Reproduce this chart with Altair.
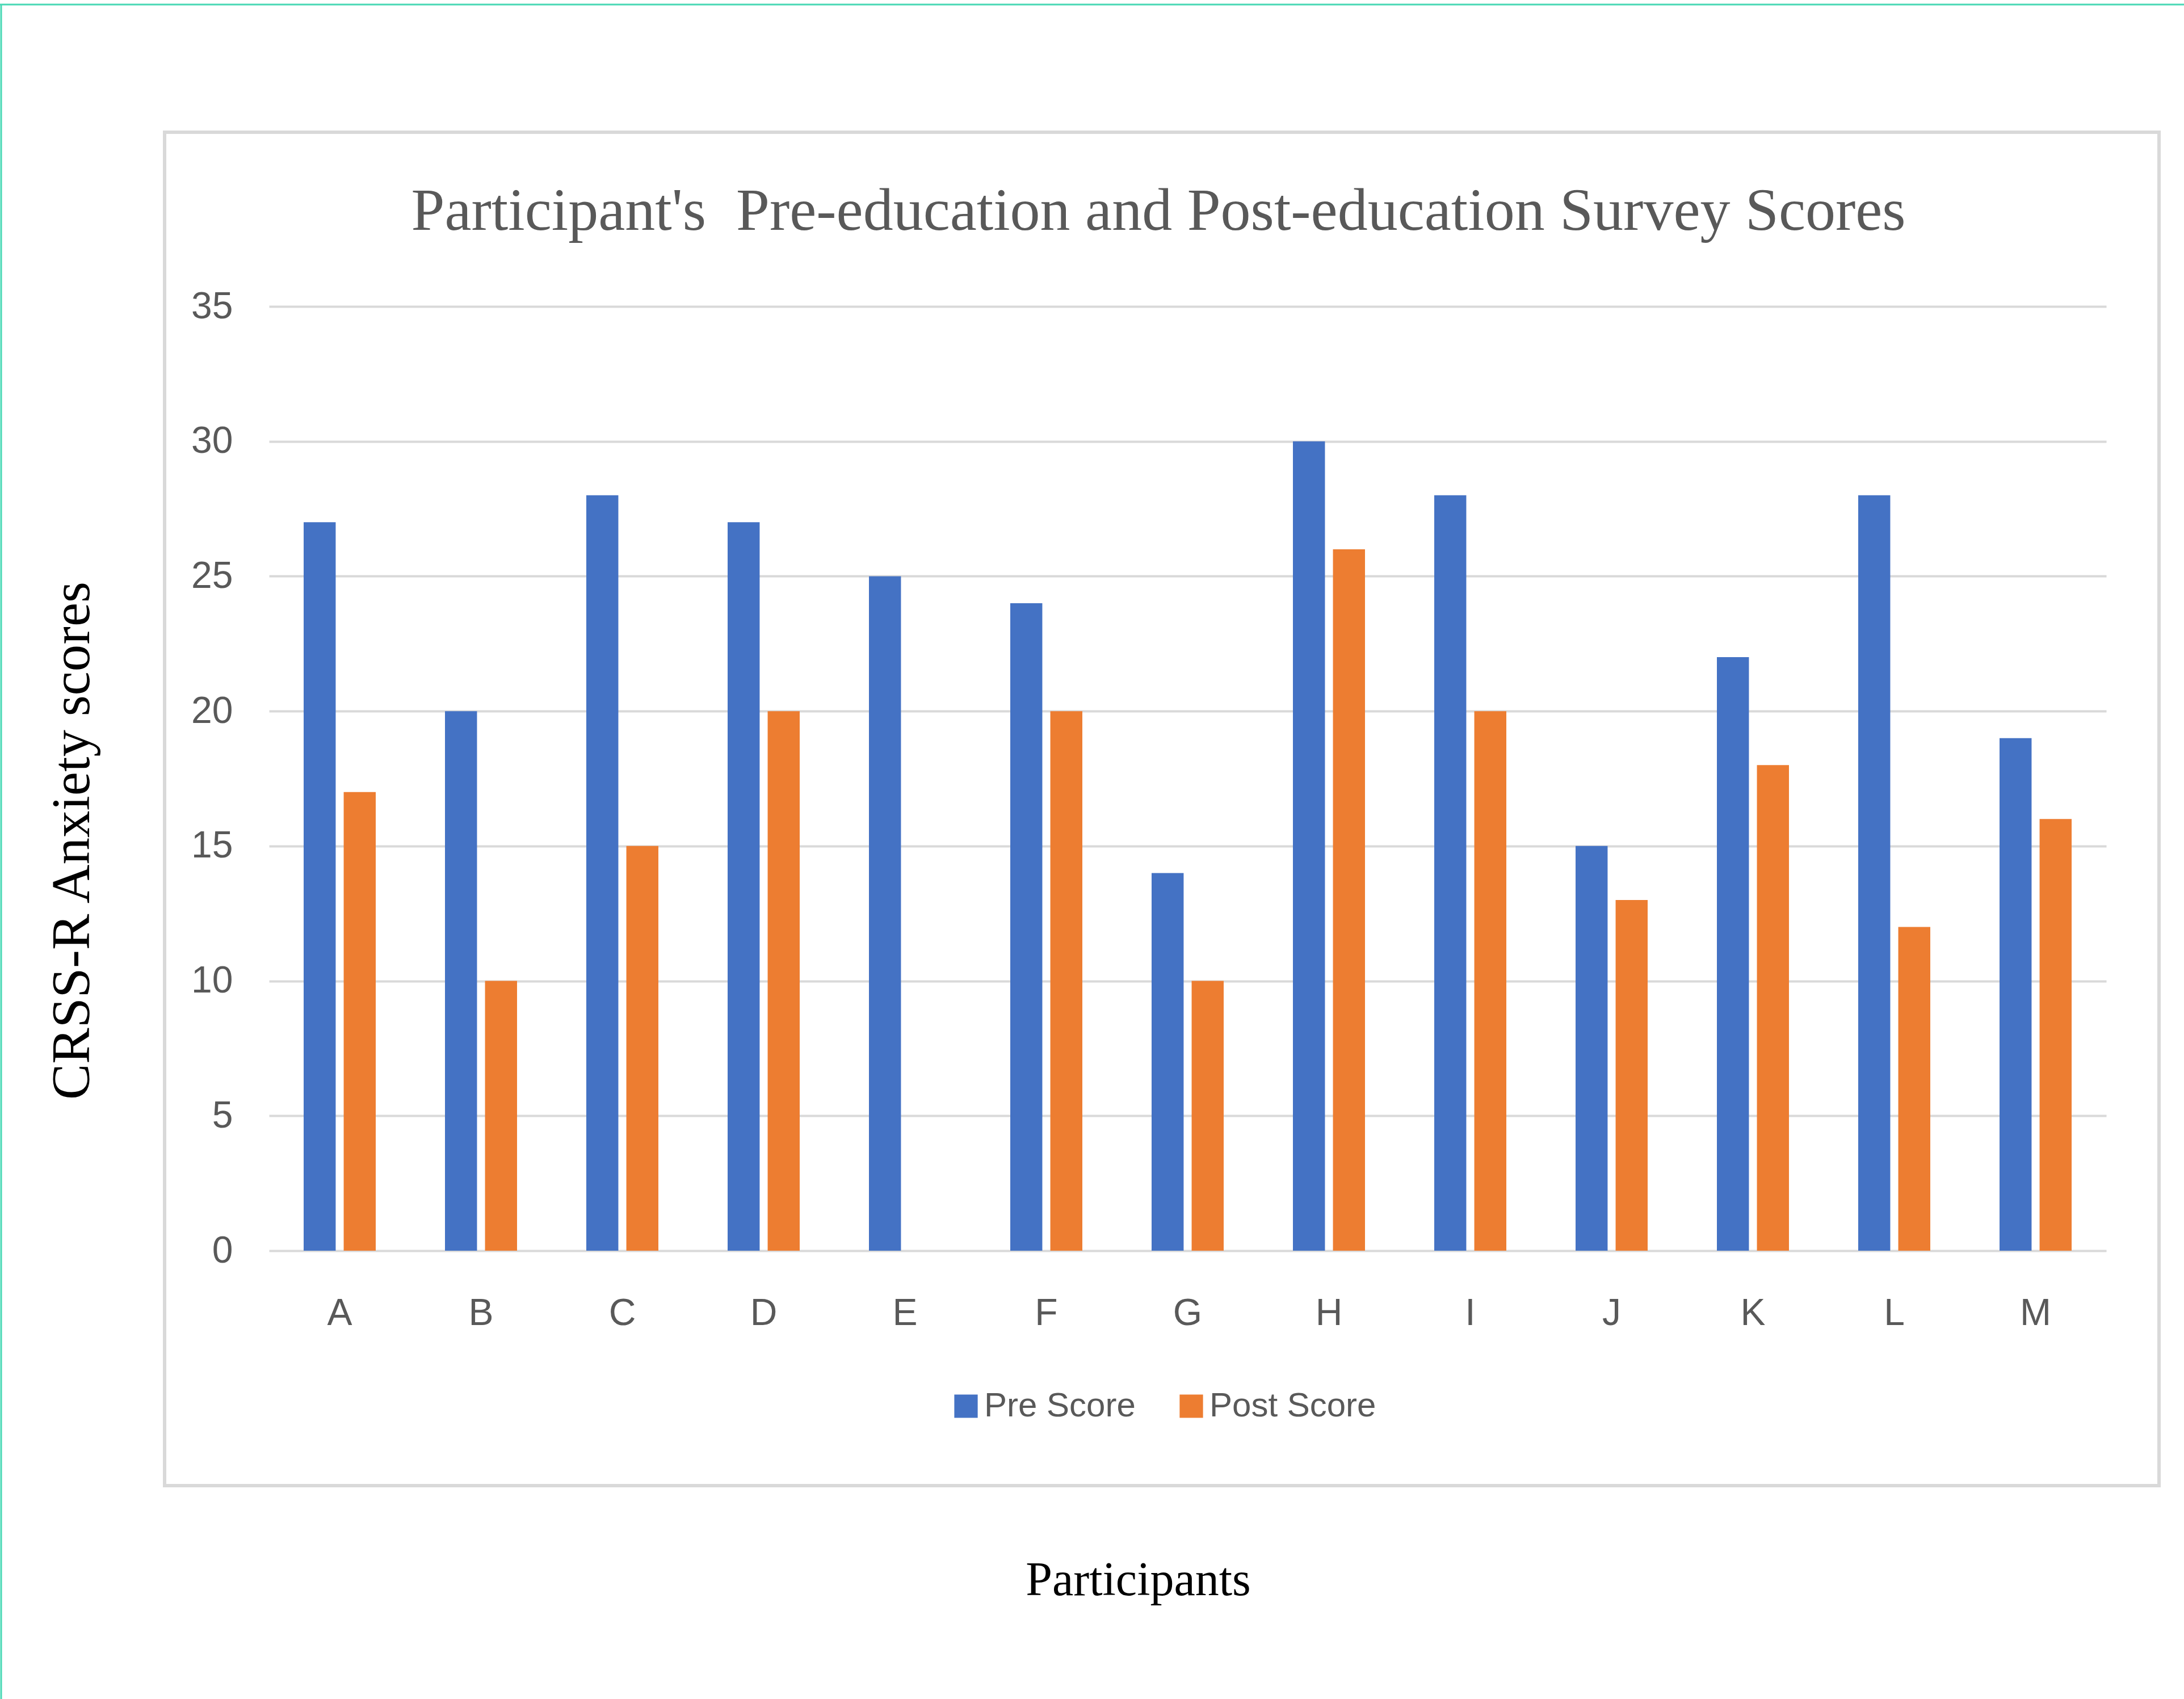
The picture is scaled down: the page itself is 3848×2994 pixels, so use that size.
import altair as alt
import pandas as pd

participants = ["A", "B", "C", "D", "E", "F", "G", "H", "I", "J", "K", "L", "M"]
pre_scores = [27, 20, 28, 27, 25, 24, 14, 30, 28, 15, 22, 28, 19]
post_scores = [17, 10, 15, 20, 0, 20, 10, 26, 20, 13, 18, 12, 16]
series_names = ["Pre Score", "Post Score"]
series_colors = ["#4472C4", "#ED7D31"]
y_ticks = [0, 5, 10, 15, 20, 25, 30, 35]
chart_title = "Participant's\u00a0 Pre-education and Post-education Survey Scores"

rows = []
for p, a, b in zip(participants, pre_scores, post_scores):
    rows.append({"Participant": p, "Series": series_names[0], "Score": a})
    rows.append({"Participant": p, "Series": series_names[1], "Score": b})
df = pd.DataFrame(rows)

W, H = 3237, 1664
LEFT, TOP = 474, 540
TOTAL_W, TOTAL_H = 3848, 2994

label_font = "Liberation Sans Narrow, Arial Narrow, Liberation Sans, sans-serif"
serif = "Liberation Serif, Times New Roman, serif"

bars = alt.Chart(df).mark_bar().encode(
    x=alt.X(
        "Participant:N",
        sort=participants,
        scale=alt.Scale(paddingInner=0.49, paddingOuter=0.245),
        axis=alt.Axis(
            title="Participants",
            titleFont=serif,
            titleFontSize=84,
            titleFontWeight="normal",
            titleColor="#000000",
            titleX=1531,
            titleY=606,
            titleAlign="center",
            titleBaseline="alphabetic",
            labelAngle=0,
            labelFont=label_font,
            labelFontSize=66,
            labelColor="#595959",
            labelPadding=78,
            domain=False,
            ticks=False,
            grid=False,
        ),
    ),
    xOffset=alt.XOffset(
        "Series:N", sort=series_names, scale=alt.Scale(paddingInner=0.2, paddingOuter=0)
    ),
    y=alt.Y(
        "Score:Q",
        scale=alt.Scale(domain=[0, 35], nice=False),
        axis=alt.Axis(
            title="CRSS-R Anxiety scores",
            titleFont=serif,
            titleFontSize=95,
            titleFontWeight="normal",
            titleColor="#000000",
            titleX=-347,
            titleY=941,
            titleAlign="center",
            titleBaseline="middle",
            titleAngle=270,
            values=y_ticks,
            labelFont=label_font,
            labelFontSize=66,
            labelColor="#595959",
            labelPadding=64,
            domain=False,
            ticks=False,
            grid=True,
            gridColor="#D9D9D9",
            gridWidth=4,
        ),
    ),
    color=alt.Color(
        "Series:N",
        sort=series_names,
        scale=alt.Scale(domain=series_names, range=series_colors),
        legend=alt.Legend(
            title=None,
            orient="none",
            direction="horizontal",
            legendX=1198,
            legendY=1908,
            padding=0,
            symbolType="square",
            symbolSize=1700,
            symbolStrokeWidth=0,
            labelFont=label_font,
            labelFontSize=60,
            labelColor="#595959",
            labelOffset=2,
            labelLimit=0,
            columnPadding=68,
        ),
    ),
)

frame = alt.Chart(alt.Data(values=[{"k": 1}])).mark_rect(
    filled=False, stroke="#D9D9D9", strokeWidth=6
).encode(
    x=alt.value(290 - LEFT),
    x2=alt.value(3804 - LEFT),
    y=alt.value(233 - TOP),
    y2=alt.value(2618 - TOP),
)

teal_top = alt.Chart(alt.Data(values=[{"k": 1}])).mark_rule(
    color="#48D8B4", strokeWidth=3
).encode(
    x=alt.value(-LEFT),
    x2=alt.value(TOTAL_W - LEFT),
    y=alt.value(8 - TOP),
)

teal_left = alt.Chart(alt.Data(values=[{"k": 1}])).mark_rule(
    color="#48D8B4", strokeWidth=3
).encode(
    x=alt.value(2 - LEFT),
    y=alt.value(8 - TOP),
    y2=alt.value(TOTAL_H - TOP),
)

title_text = alt.Chart(alt.Data(values=[{"t": chart_title}])).mark_text(
    font=serif,
    fontSize=106,
    color="#595959",
    align="center",
    baseline="alphabetic",
).encode(
    text="t:N",
    x=alt.value(2041 - LEFT),
    y=alt.value(405 - TOP),
)

chart = alt.layer(frame, teal_top, teal_left, title_text, bars).properties(
    width=W,
    height=H,
    padding={"left": LEFT, "top": TOP, "right": TOTAL_W - LEFT - W, "bottom": TOTAL_H - TOP - H},
    autosize=alt.AutoSizeParams(type="none"),
    background="white",
).configure_view(strokeWidth=0)

chart.save("out.html", embed_options={"renderer": "svg", "actions": False})
